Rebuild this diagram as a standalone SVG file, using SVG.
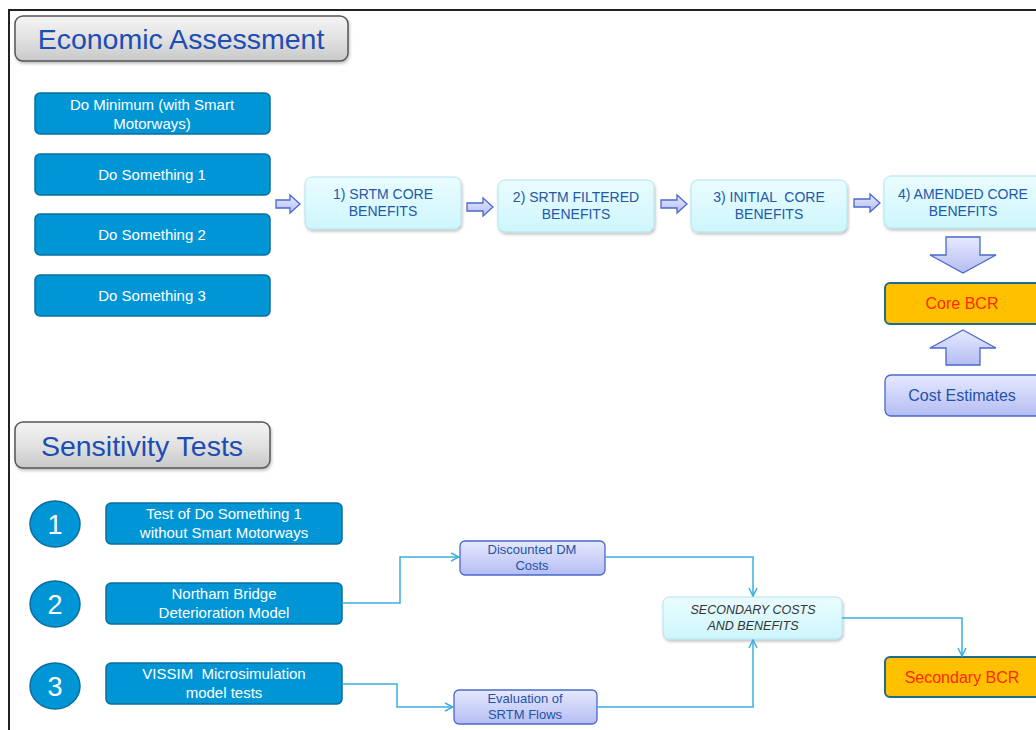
<svg xmlns="http://www.w3.org/2000/svg" width="1036" height="730" viewBox="0 0 1036 730">
<defs>
<linearGradient id="gGray" x1="0" y1="0" x2="0" y2="1"><stop offset="0" stop-color="#f4f4f4"/><stop offset="0.5" stop-color="#e2e2e2"/><stop offset="1" stop-color="#c8c8c8"/></linearGradient>
<linearGradient id="gCyan" x1="0" y1="0" x2="0" y2="1"><stop offset="0" stop-color="#eafcff"/><stop offset="1" stop-color="#cdf6fc"/></linearGradient>
<linearGradient id="gLav" x1="0" y1="0" x2="0" y2="1"><stop offset="0" stop-color="#e6e9ff"/><stop offset="1" stop-color="#b4bdf2"/></linearGradient>
<filter id="sh" x="-10%" y="-20%" width="120%" height="150%"><feDropShadow dx="1" dy="2" stdDeviation="1.5" flood-color="#000" flood-opacity="0.25"/></filter>
<marker id="ah" viewBox="0 0 10 10" refX="9" refY="5" markerWidth="10" markerHeight="10" markerUnits="userSpaceOnUse" orient="auto"><path d="M1,1 L9,5 L1,9" fill="none" stroke="#3aaee0" stroke-width="1.5"/></marker>
</defs>
<style>
.hdr{fill:url(#gGray);stroke:#555;stroke-width:1.5}
.hdrT{font-family:"Liberation Sans",Arial,sans-serif;font-size:28.5px;fill:#1b4db3;text-anchor:middle}
.blue{fill:#0096d6;stroke:#0b6e9e;stroke-width:1.5}
.wT{font-family:"Liberation Sans",Arial,sans-serif;font-size:15px;fill:#fff;text-anchor:middle;white-space:pre}
.cyan{fill:url(#gCyan);stroke:#b0e4ee;stroke-width:1}
.cT{font-family:"Liberation Sans",Arial,sans-serif;font-size:14px;fill:#2458a8;text-anchor:middle;white-space:pre}
.lav{fill:url(#gLav);stroke:#4a68cc;stroke-width:1.3}
.lT{font-family:"Liberation Sans",Arial,sans-serif;fill:#2452a6;text-anchor:middle}
.org{fill:#ffc000;stroke:#1d6c8c;stroke-width:2}
.rT{font-family:"Liberation Sans",Arial,sans-serif;font-size:16px;fill:#ff2a00;text-anchor:middle}
.sT{font-family:"Liberation Sans",Arial,sans-serif;font-size:12.5px;font-style:italic;fill:#333;text-anchor:middle}
.circ{fill:#0096d6;stroke:#0b6e9e;stroke-width:1.5}
.nT{font-family:"Liberation Sans",Arial,sans-serif;font-size:27px;fill:#fff;text-anchor:middle}
.blk{fill:url(#gLav);stroke:#4a68cc;stroke-width:1.3}
.con{fill:none;stroke:#3aaee0;stroke-width:1.5}
</style>
<rect width="1036" height="730" fill="#fff"/>
<path d="M9,730 V10 H1036" fill="none" stroke="#222" stroke-width="2"/>

<g id="hdr-econ"><rect class="hdr" x="15" y="16" width="333" height="45" rx="8" filter="url(#sh)"/><text class="hdrT" x="181" y="49">Economic Assessment</text></g>

<g id="do-min"><rect class="blue" x="35" y="93" width="235" height="41" rx="5"/><text class="wT" x="152" y="110">Do Minimum (with Smart</text><text class="wT" x="152" y="129">Motorways)</text></g>
<g id="ds1"><rect class="blue" x="35" y="154" width="235" height="41" rx="5"/><text class="wT" x="152" y="180">Do Something 1</text></g>
<g id="ds2"><rect class="blue" x="35" y="214" width="235" height="41" rx="5"/><text class="wT" x="152" y="240">Do Something 2</text></g>
<g id="ds3"><rect class="blue" x="35" y="275" width="235" height="41" rx="5"/><text class="wT" x="152" y="301">Do Something 3</text></g>

<g id="b1"><rect class="cyan" x="305" y="177" width="156" height="52" rx="7" filter="url(#sh)"/><text class="cT" x="383" y="199">1) SRTM CORE</text><text class="cT" x="383" y="216">BENEFITS</text></g>
<g id="b2"><rect class="cyan" x="498" y="180" width="156" height="52" rx="7" filter="url(#sh)"/><text class="cT" x="576" y="202">2) SRTM FILTERED</text><text class="cT" x="576" y="219">BENEFITS</text></g>
<g id="b3"><rect class="cyan" x="691" y="180" width="156" height="52" rx="7" filter="url(#sh)"/><text class="cT" x="769" y="202" xml:space="preserve">3) INITIAL  CORE</text><text class="cT" x="769" y="219">BENEFITS</text></g>
<g id="b4"><rect class="cyan" x="884" y="176" width="160" height="52" rx="7" filter="url(#sh)"/><text class="cT" x="963" y="199">4) AMENDED CORE</text><text class="cT" x="963" y="216">BENEFITS</text></g>

<g id="core-bcr"><rect class="org" x="885" y="283" width="160" height="41" rx="5"/><text class="rT" x="962" y="309">Core BCR</text></g>
<g id="cost-est"><rect class="lav" x="885" y="375" width="160" height="41" rx="6"/><text class="lT" x="962" y="401" font-size="16">Cost Estimates</text></g>

<g id="hdr-sens"><rect class="hdr" x="15" y="422" width="255" height="46" rx="8" filter="url(#sh)"/><text class="hdrT" x="142" y="456">Sensitivity Tests</text></g>

<g id="c1"><ellipse class="circ" cx="55" cy="524" rx="25" ry="23"/><text class="nT" x="55" y="534">1</text></g>
<g id="c2"><ellipse class="circ" cx="55" cy="604" rx="25" ry="23"/><text class="nT" x="55" y="614">2</text></g>
<g id="c3"><ellipse class="circ" cx="55" cy="686" rx="25" ry="23"/><text class="nT" x="55" y="696">3</text></g>

<g id="s1"><rect class="blue" x="106" y="503" width="236" height="41" rx="5"/><text class="wT" x="224" y="519">Test of Do Something 1</text><text class="wT" x="224" y="538">without Smart Motorways</text></g>
<g id="s2"><rect class="blue" x="106" y="583" width="236" height="41" rx="5"/><text class="wT" x="224" y="599">Northam Bridge</text><text class="wT" x="224" y="618">Deterioration Model</text></g>
<g id="s3"><rect class="blue" x="106" y="663" width="236" height="41" rx="5"/><text class="wT" x="224" y="679" xml:space="preserve">VISSIM  Microsimulation</text><text class="wT" x="224" y="698">model tests</text></g>

<g id="disc"><rect class="lav" x="460" y="541" width="145" height="34" rx="5"/><text class="lT" x="532" y="554" font-size="13">Discounted DM</text><text class="lT" x="532" y="570" font-size="13">Costs</text></g>
<g id="eval"><rect class="lav" x="454" y="690" width="143" height="34" rx="5"/><text class="lT" x="525" y="703" font-size="13">Evaluation of</text><text class="lT" x="525" y="719" font-size="13">SRTM Flows</text></g>
<g id="sec"><rect class="cyan" x="663" y="597" width="179" height="42" rx="6" filter="url(#sh)"/><text class="sT" x="753" y="614">SECONDARY COSTS</text><text class="sT" x="753" y="630">AND BENEFITS</text></g>
<g id="sec-bcr"><rect class="org" x="885" y="657" width="160" height="40" rx="5"/><text class="rT" x="962" y="683">Secondary BCR</text></g>

<g id="connectors">
<path class="blk" d="M276,200 H290 V195 L300,204 L290,213 V208 H276 Z"/>
<path class="blk" d="M467,203 H483 V198 L493,207 L483,216 V211 H467 Z"/>
<path class="blk" d="M661,200 H677 V195 L687,204 L677,213 V208 H661 Z"/>
<path class="blk" d="M854,199 H870 V194 L880,203 L870,212 V207 H854 Z"/>
<path class="blk" d="M946,237 H980 V255 H996 L963,273 L930,255 H946 Z"/>
<path class="blk" d="M963,330 L996,348 H980 V365 H946 V348 H930 Z"/>
<path class="con" d="M342,603 H400 V557 H459" marker-end="url(#ah)"/>
<path class="con" d="M342,684 H397 V707 H453" marker-end="url(#ah)"/>
<path class="con" d="M605,557 H753 V596" marker-end="url(#ah)"/>
<path class="con" d="M597,707 H753 V640" marker-end="url(#ah)"/>
<path class="con" d="M842,618 H962 V656" marker-end="url(#ah)"/>
</g>
</svg>
